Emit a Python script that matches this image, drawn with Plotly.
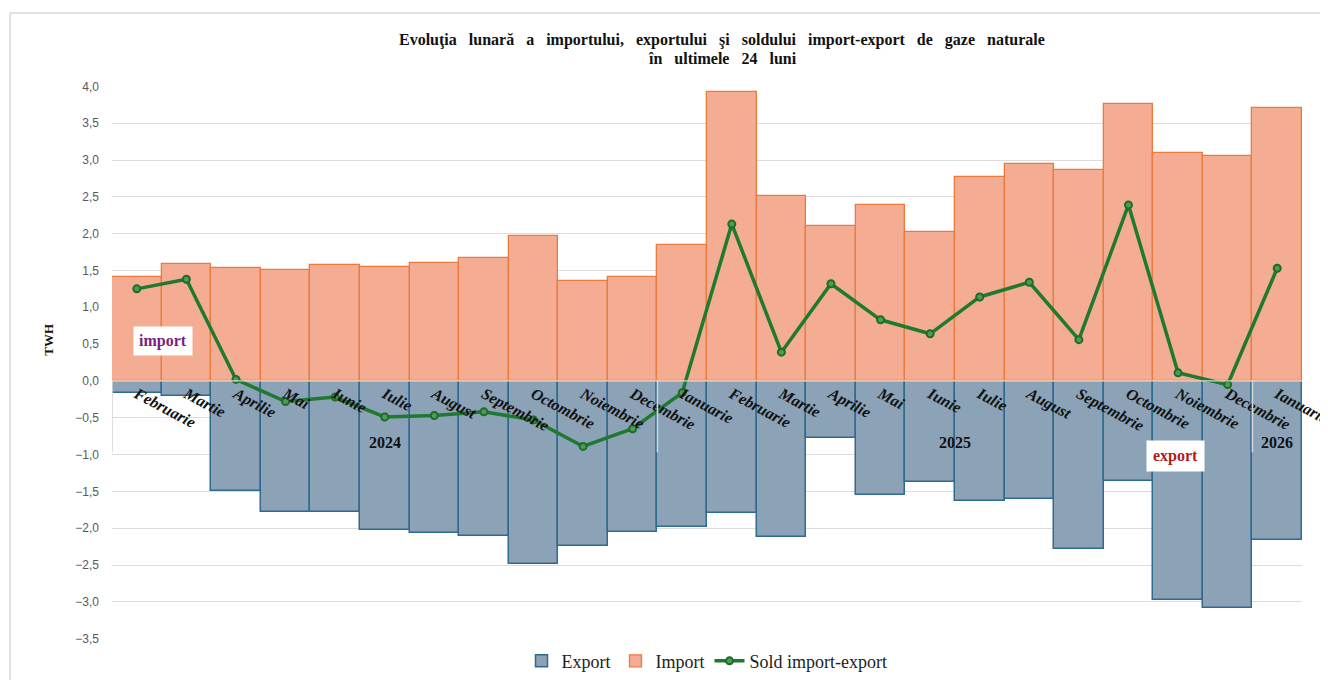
import plotly.graph_objects as go

months = ["Februarie", "Martie", "Aprilie", "Mai", "Iunie", "Iulie", "August",
          "Septembrie", "Octombrie", "Noiembrie", "Decembrie",
          "Ianuarie", "Februarie", "Martie", "Aprilie", "Mai", "Iunie", "Iulie",
          "August", "Septembrie", "Octombrie", "Noiembrie", "Decembrie",
          "Ianuarie"]
years = ["2024"] * 11 + ["2025"] * 12 + ["2026"]

import_vals = [1.41, 1.59, 1.53, 1.50, 1.57, 1.55, 1.60, 1.67, 1.97, 1.36, 1.41,
               1.84, 3.93, 2.51, 2.10, 2.39, 2.02, 2.77, 2.94, 2.86, 3.76, 3.10,
               3.05, 3.71]
export_vals = [-0.16, -0.20, -1.49, -1.78, -1.78, -2.03, -2.06, -2.10, -2.49,
               -2.24, -2.05, -1.99, -1.80, -2.12, -0.77, -1.55, -1.37, -1.63,
               -1.60, -2.28, -1.36, -2.98, -3.09, -2.16]
sold_vals = [1.25, 1.38, 0.02, -0.28, -0.22, -0.49, -0.47, -0.42, -0.53, -0.89,
             -0.65, -0.16, 2.13, 0.39, 1.32, 0.83, 0.64, 1.14, 1.34, 0.56, 2.39,
             0.11, -0.05, 1.53]

year_labels = ["2024", "2025", "2026"]
y_ticks = [-3.5, -3.0, -2.5, -2.0, -1.5, -1.0, -0.5, 0.0, 0.5, 1.0, 1.5, 2.0,
           2.5, 3.0, 3.5, 4.0]

title_line1 = "Evoluţia lunară a importului, exportului şi soldului import-export de gaze naturale"
title_line2 = "în ultimele 24 luni"

cats = [f"{m} {y}" for m, y in zip(months, years)]

SERIF = "Liberation Serif"
SANS = "Liberation Sans"
WIDE = " \u00a0\u00a0"  # wider word spacing like the reference


def widen(s):
    return WIDE.join(s.split(" "))


fig = go.Figure()
fig.add_trace(go.Bar(
    x=cats, y=export_vals, name="Export",
    marker=dict(color="#8BA2B7", line=dict(color="#2F6B8F", width=1.5)),
))
fig.add_trace(go.Bar(
    x=cats, y=import_vals, name="Import",
    marker=dict(color="#F4AD92", line=dict(color="#EC7A3C", width=1.3)),
))
fig.add_trace(go.Scatter(
    x=cats, y=sold_vals, name="Sold import-export", mode="lines+markers",
    line=dict(color="#1F7A30", width=3.5),
    marker=dict(symbol="circle", size=7, color="#4E9A57",
                line=dict(color="#1F6B28", width=2)),
))

ymin, ymax = -3.5, 4.0
zero_pos = (0 - ymin) / (ymax - ymin)

fig.update_layout(
    width=1320, height=672,
    margin=dict(l=104, r=26, t=78, b=41, autoexpand=False),
    paper_bgcolor="white", plot_bgcolor="white",
    barmode="relative", bargap=0,
    separators=",.",
    showlegend=True,
    legend=dict(orientation="h", x=0.5, xanchor="center", y=-0.04,
                yanchor="middle", font=dict(family=SERIF, size=18, color="#222"),
                traceorder="normal", itemwidth=30),
    xaxis=dict(
        type="category", categoryorder="array", categoryarray=cats,
        tickmode="array", tickvals=cats,
        ticktext=[f"<b><i>{m}</i></b>" for m in months],
        tickangle=28, tickfont=dict(family=SERIF, size=16, color="#111"),
        anchor="free", position=zero_pos, automargin=False,
        showline=False, showgrid=False, ticks="", zeroline=False,
        range=[-0.5, len(cats) - 0.5],
    ),
    yaxis=dict(
        range=[ymin - 0.005, ymax + 0.005], tickvals=y_ticks, automargin=False,
        tickformat=".1f", tickfont=dict(family=SANS, size=12, color="#595959"),
        showgrid=True, gridcolor="#DCDCDC", gridwidth=1.2,
        zeroline=False, showline=False, ticks="", ticklabelstandoff=12,
    ),
)

# Title (two lines, tight line spacing like the reference)
fig.add_annotation(
    text=f"<b>{widen(title_line1)}</b>",
    xref="paper", yref="paper", x=0.513, y=1.0832, xanchor="center", yanchor="middle",
    showarrow=False, font=dict(family=SERIF, size=16, color="#111"),
)
fig.add_annotation(
    text=f"<b>{widen(title_line2)}</b>",
    xref="paper", yref="paper", x=0.513, y=1.0505, xanchor="center", yanchor="middle",
    showarrow=False, font=dict(family=SERIF, size=16, color="#111"),
)
# Y axis title
fig.add_annotation(
    text="<b>TWH</b>", xref="paper", yref="paper", x=-0.061, y=0.541,
    textangle=-90, showarrow=False, font=dict(family=SERIF, size=13, color="#111"),
)
# Year labels
year_centers = [5, 16.5, 23]
for lbl, xc in zip(year_labels, year_centers):
    fig.add_annotation(text=f"<b>{lbl}</b>", xref="x", yref="y", x=xc, y=-0.84,
                       showarrow=False, font=dict(family=SERIF, size=16, color="#111"))
# import / export boxes
fig.add_annotation(text="<b>import</b>", xref="x", yref="y", x=0.53, y=0.54,
                   showarrow=False, bgcolor="white", borderpad=5,
                   font=dict(family=SERIF, size=16, color="#7A1F7E"))
fig.add_annotation(text="<b>export</b>", xref="x", yref="y", x=20.95, y=-1.02,
                   showarrow=False, bgcolor="white", borderpad=6,
                   font=dict(family=SERIF, size=16, color="#B01C1C"))

# category separators and zero line
shapes = [
    dict(type="line", xref="x", yref="y", x0=-0.5, x1=-0.5, y0=0, y1=-0.97,
         line=dict(color="#D4D4D4", width=1.5), layer="above"),
    dict(type="line", xref="x", yref="y", x0=10.5, x1=10.5, y0=0, y1=-0.97,
         line=dict(color="#D8D8D8", width=1.5), layer="above"),
    dict(type="line", xref="x", yref="y", x0=22.5, x1=22.5, y0=0, y1=-0.97,
         line=dict(color="#D8D8D8", width=1.5), layer="above"),
    dict(type="line", xref="x", yref="y", x0=-0.5, x1=23.5, y0=0, y1=0,
         line=dict(color="#F3F3F3", width=1), layer="above"),
    # outer chart border
    dict(type="rect", xref="paper", yref="paper", x0=-0.0857, x1=1.05,
         y0=-0.12, y1=1.132, line=dict(color="#D9D9D9", width=1.5),
         fillcolor="rgba(0,0,0,0)", layer="below"),
]
fig.update_layout(shapes=shapes)

fig.write_html("out.html")
